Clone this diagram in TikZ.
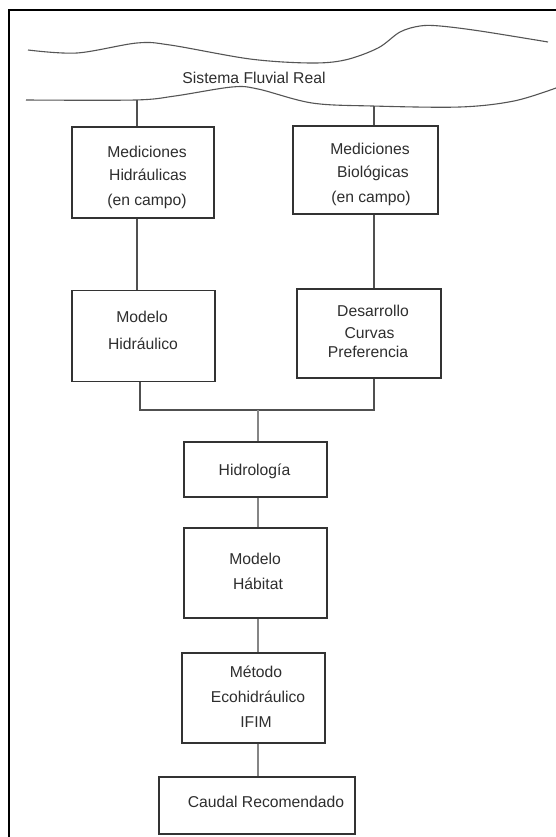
\documentclass[tikz,border=0pt]{standalone}
\usepackage{fontspec}
\setmainfont{Liberation Sans}
\definecolor{boxc}{HTML}{333333}
\definecolor{txt}{HTML}{2E2E2E}
\definecolor{connA}{HTML}{505050}
\definecolor{connB}{HTML}{858585}
\definecolor{wave}{HTML}{555555}
\newcommand{\lbfont}{\fontsize{15.7}{18}\selectfont}
\begin{document}
\begin{tikzpicture}[x=1pt,y=-1pt,
  box/.style={draw=boxc, line width=1.2pt, inner sep=0pt, rectangle},
  lbl/.style={font=\lbfont, text=txt, inner sep=0pt, anchor=base},
  conna/.style={draw=connA, line width=1.1pt},
  connb/.style={draw=connB, line width=1.1pt},
  wavel/.style={draw=wave, line width=1.1pt}]
\useasboundingbox (0,0) rectangle (556,837);
\fill[white] (0,0) rectangle (556,837);
% frame
\draw[black, line width=1.2pt] (9,837) -- (9,10) -- (556,10);
% river banks
\draw[wavel] plot[smooth, tension=0.55] coordinates {(28,50) (77,53) (137,43) (170,45) (250,59) (310,63) (345,60) (378,48) (400,32) (420,26) (440,26) (480,31) (548,42)};
\draw[wavel] plot[smooth, tension=0.55] coordinates {(26,100) (135,100) (175,96) (232,87) (258,89) (312,103) (372,106) (460,107) (514,101) (556,88)};
\node[lbl] (sfr) at (254,84) {Sistema Fluvial Real};
% boxes
\node[box, minimum width=142pt, minimum height=91pt] (mh) at (143,172.5) {};
\node[box, minimum width=145pt, minimum height=88pt] (mb) at (365.5,170) {};
\node[box, minimum width=143pt, minimum height=91pt] (mhid) at (143.5,336) {};
\node[box, minimum width=144pt, minimum height=89pt] (dcp) at (369,333.5) {};
\node[box, minimum width=143pt, minimum height=55pt] (hidro) at (255.5,469.5) {};
\node[box, minimum width=143pt, minimum height=90pt] (hab) at (255.5,573) {};
\node[box, minimum width=143pt, minimum height=90pt] (ifim) at (253.5,698) {};
\node[box, minimum width=196pt, minimum height=57pt] (caudal) at (257,805.5) {};
% texts
\node[lbl] (t1a) at (147,157.6) {Mediciones};
\node[lbl] (t1b) at (148,180.6) {Hidráulicas};
\node[lbl] (t1c) at (147,205.6) {(en campo)};
\node[lbl] (t2a) at (370,154.6) {Mediciones};
\node[lbl] (t2b) at (373,177.6) {Biológicas};
\node[lbl] (t2c) at (371,202.6) {(en campo)};
\node[lbl] (t3a) at (142,322.6) {Modelo};
\node[lbl] (t3b) at (143,349.6) {Hidráulico};
\node[lbl] (t4a) at (373,316.6) {Desarrollo};
\node[lbl] (t4b) at (369.5,338.6) {Curvas};
\node[lbl] (t4c) at (368,357.6) {Preferencia};
\node[lbl] (t5) at (254.5,475.6) {Hidrología};
\node[lbl] (t6a) at (255,564.6) {Modelo};
\node[lbl] (t6b) at (258,589.6) {Hábitat};
\node[lbl] (t7a) at (256,677.6) {Método};
\node[lbl] (t7b) at (258,702.6) {Ecohidráulico};
\node[lbl] (t7c) at (256,727.6) {IFIM};
\node[lbl] (t8) at (266,807.6) {Caudal Recomendado};
% connectors
\coordinate (w1) at (137,100);
\coordinate (w2) at (374,106);
\coordinate (j) at (258,410);
\draw[conna] (w1) -- (w1 |- mh.north);
\draw[conna] (w2) -- (w2 |- mb.north);
\draw[conna] (w1 |- mh.south) -- (w1 |- mhid.north);
\draw[conna] (w2 |- mb.south) -- (w2 |- dcp.north);
\draw[conna] (140,0 |- mhid.south) -- (140,410) -- (374,410) -- (w2 |- dcp.south);
\draw[connb] (j) -- (j |- hidro.north);
\draw[connb] (j |- hidro.south) -- (j |- hab.north);
\draw[connb] (j |- hab.south) -- (j |- ifim.north);
\draw[connb] (j |- ifim.south) -- (j |- caudal.north);
\end{tikzpicture}
\end{document}
